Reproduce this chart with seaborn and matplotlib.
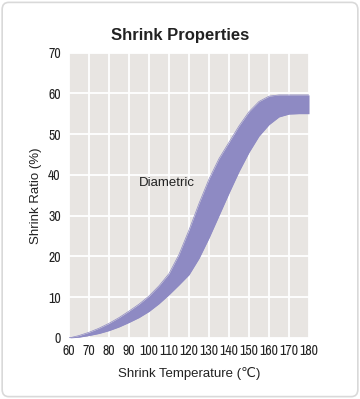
import matplotlib
matplotlib.use("Agg")
import matplotlib.pyplot as plt
from matplotlib.patches import FancyBboxPatch
import seaborn as sns
import pandas as pd

# values
temperature = [60, 65, 70, 75, 80, 85, 90, 95, 100, 105, 110, 115, 120,
               125, 130, 135, 140, 145, 150, 155, 160, 165, 170, 175, 180]
upper_ratio = [0, 0.6, 1.4, 2.4, 3.6, 5.0, 6.6, 8.3, 10.3, 12.8, 15.8, 20.5, 26.5,
               33.0, 39.0, 44.0, 48.0, 52.0, 55.5, 58.0, 59.3, 59.6, 59.6, 59.6, 59.6]
lower_ratio = [0, 0.2, 0.6, 1.1, 1.8, 2.7, 3.8, 5.0, 6.5, 8.4, 10.6, 13.0, 15.5,
               19.5, 24.5, 30.0, 35.5, 40.8, 45.5, 49.5, 52.3, 54.2, 54.9, 55.0, 55.0]
x_ticks = list(range(60, 181, 10))
y_ticks = list(range(0, 71, 10))

BAND = "#8e8ac3"
PANEL = "#e8e5e2"
TEXT = "#222222"

sns.set_theme(style="white")
plt.rcParams["font.family"] = ["Liberation Sans", "DejaVu Sans"]

df = pd.DataFrame({"temp": temperature, "upper": upper_ratio, "lower": lower_ratio})

fig = plt.figure(figsize=(3.6, 3.99), dpi=100)
fig.patch.set_facecolor("white")
frame = FancyBboxPatch((0.006, 0.006), 0.988, 0.988,
                       boxstyle="round,pad=0,rounding_size=0.018",
                       transform=fig.transFigure, facecolor="none",
                       edgecolor="#d9d9d9", linewidth=1.2, zorder=-10)
fig.patches.append(frame)

ax = fig.add_axes([0.1917, 0.1529, 0.6667, 0.7155])
ax.set_facecolor(PANEL)

sns.lineplot(data=df, x="temp", y="upper", ax=ax, color=BAND, linewidth=0.5)
sns.lineplot(data=df, x="temp", y="lower", ax=ax, color=BAND, linewidth=0.5)
ax.fill_between(df["temp"], df["lower"], df["upper"], color=BAND, linewidth=0, zorder=3)

ax.set_xlim(60, 180)
ax.set_ylim(0, 70)
ax.set_xticks(x_ticks)
ax.set_yticks(y_ticks)
narrow = ["Archivo Narrow", "DejaVu Sans"]
ax.set_xticklabels([str(t) for t in x_ticks], fontsize=10, color=TEXT, family=narrow)
ax.set_yticklabels([str(t) for t in y_ticks], fontsize=10, color=TEXT, family=narrow)
ax.tick_params(axis="x", length=0, pad=4)
ax.tick_params(axis="y", length=0, pad=6)
ax.grid(True, color="white", linewidth=1.3, zorder=1)
ax.set_axisbelow(True)
for s in ax.spines.values():
    s.set_visible(False)

ax.set_xlabel("Shrink Temperature (\u2103)", fontsize=9.5, color=TEXT, labelpad=7)
ax.set_ylabel("Shrink Ratio (%)", fontsize=9.5, color=TEXT, labelpad=4)
ax.text(109, 38, "Diametric", fontsize=9.5, color=TEXT, ha="center", va="center", zorder=4)

fig.text(0.5, 0.912, "Shrink Properties", ha="center", va="center",
         fontsize=12, fontweight="bold", color=TEXT)

fig.savefig("out.png", dpi=100)
